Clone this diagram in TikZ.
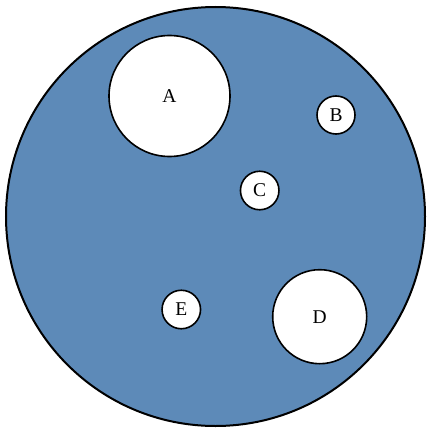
\documentclass[tikz,border=0pt]{standalone}
\usepackage{fontspec}
\setmainfont{Liberation Serif}
\definecolor{plate}{RGB}{93,138,184}
\begin{document}
\begin{tikzpicture}[x=1pt,y=-1pt,
  hole/.style={circle,draw=black,line width=1.6pt,fill=white,inner sep=0pt,font=\fontsize{19.5}{19.5}\selectfont}]
\useasboundingbox (0,0) rectangle (426,428);
\node[circle,draw=black,line width=2pt,fill=plate,minimum size=419pt,inner sep=0pt] (plate) at (215.5,216.5) {};
\node[hole,minimum size=121pt] (A) at (169.5,96) {A};
\node[hole,minimum size=38pt] (B) at (336,115) {B};
\node[hole,minimum size=38.5pt] (C) at (259.7,190.5) {C};
\node[hole,minimum size=94pt] (D) at (319.7,316.7) {D};
\node[hole,minimum size=38.5pt] (E) at (181.3,309.5) {E};
\end{tikzpicture}
\end{document}
